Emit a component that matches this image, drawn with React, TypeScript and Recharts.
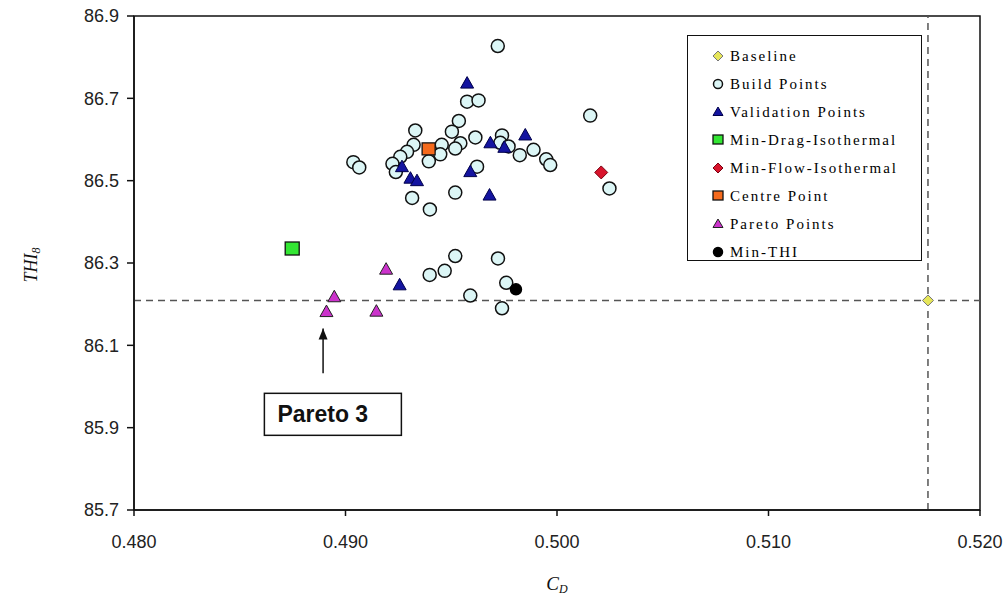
import {
  ScatterChart,
  Scatter,
  XAxis,
  YAxis,
  ReferenceLine,
  ReferenceArea,
  ReferenceDot,
  Legend,
} from "recharts";

// [C_D, THI_8] pairs
type Pt = [number, number];

const baselinePoints: Pt[] = [[0.51754, 86.209]];

const buildPoints: Pt[] = [
  [0.4972, 86.827],
  [0.49575, 86.692],
  [0.49629, 86.695],
  [0.50157, 86.658],
  [0.49536, 86.645],
  [0.4933, 86.622],
  [0.49503, 86.619],
  [0.49614, 86.605],
  [0.4974, 86.61],
  [0.49322, 86.587],
  [0.49455, 86.587],
  [0.49543, 86.591],
  [0.49519, 86.578],
  [0.49732, 86.592],
  [0.49771, 86.583],
  [0.49291, 86.57],
  [0.49259, 86.558],
  [0.49448, 86.564],
  [0.49394, 86.547],
  [0.49824, 86.562],
  [0.49889, 86.575],
  [0.49949, 86.552],
  [0.49968, 86.538],
  [0.49037, 86.545],
  [0.49065, 86.532],
  [0.49222, 86.541],
  [0.49238, 86.521],
  [0.49622, 86.534],
  [0.49519, 86.471],
  [0.49315, 86.458],
  [0.49399, 86.43],
  [0.50248, 86.481],
  [0.49398, 86.271],
  [0.49469, 86.281],
  [0.49519, 86.317],
  [0.49721, 86.311],
  [0.4976, 86.252],
  [0.4959, 86.221],
  [0.4974, 86.19],
];

const validationPoints: Pt[] = [
  [0.49575, 86.737],
  [0.4985, 86.611],
  [0.49685, 86.592],
  [0.49751, 86.581],
  [0.49267, 86.534],
  [0.49307, 86.506],
  [0.49338, 86.5],
  [0.4959, 86.522],
  [0.49681, 86.465],
  [0.49256, 86.247],
];

const minDragPoints: Pt[] = [[0.48748, 86.334]];
const minFlowPoints: Pt[] = [[0.50209, 86.52]];
const centrePoints: Pt[] = [[0.49393, 86.576]];

const paretoPoints: Pt[] = [
  [0.49192, 86.285],
  [0.48947, 86.218],
  [0.4891, 86.182],
  [0.49146, 86.183],
];

const minThiPoints: Pt[] = [[0.49806, 86.236]];

const xTicks = [0.48, 0.49, 0.5, 0.51, 0.52];
const yTicks = [85.7, 85.9, 86.1, 86.3, 86.5, 86.7, 86.9];

// arrow pointing at Pareto 3: x, tail y, tip y
const pareto3Arrow = { x: 0.48894, tail: 86.032, tip: 86.141 };

type Kind = "diamond" | "circle" | "triangle" | "square";

type Series = {
  name: string;
  points: Pt[];
  kind: Kind;
  size: number;
  fill: string;
  stroke: string;
};

const series: Series[] = [
  { name: "Baseline", points: baselinePoints, kind: "diamond", size: 11, fill: "#e6e65a", stroke: "#777" },
  { name: "Build Points", points: buildPoints, kind: "circle", size: 13, fill: "#dcf6f6", stroke: "#111" },
  { name: "Validation Points", points: validationPoints, kind: "triangle", size: 13, fill: "#1414a0", stroke: "#00004a" },
  { name: "Min-Drag-Isothermal", points: minDragPoints, kind: "square", size: 14, fill: "#33e633", stroke: "#111" },
  { name: "Min-Flow-Isothermal", points: minFlowPoints, kind: "diamond", size: 13, fill: "#d8142c", stroke: "#7a0010" },
  { name: "Centre Point", points: centrePoints, kind: "square", size: 13, fill: "#f56a1c", stroke: "#111" },
  { name: "Pareto Points", points: paretoPoints, kind: "triangle", size: 13, fill: "#cc33cc", stroke: "#222" },
  { name: "Min-THI", points: minThiPoints, kind: "circle", size: 11, fill: "#000", stroke: "#000" },
];

const serif = "'Liberation Serif', 'Times New Roman', serif";

function Marker({ kind, cx, cy, s, fill, stroke }: { kind: Kind; cx: number; cy: number; s: number; fill: string; stroke: string }) {
  const h = s / 2;
  if (kind === "circle") {
    return <circle cx={cx} cy={cy} r={h} fill={fill} stroke={stroke} strokeWidth={1.5} />;
  }
  if (kind === "square") {
    return <rect x={cx - h} y={cy - h} width={s} height={s - 1} fill={fill} stroke={stroke} strokeWidth={1.3} />;
  }
  if (kind === "diamond") {
    return (
      <polygon
        points={`${cx},${cy - h} ${cx + h},${cy} ${cx},${cy + h} ${cx - h},${cy}`}
        fill={fill}
        stroke={stroke}
        strokeWidth={1}
      />
    );
  }
  return (
    <polygon
      points={`${cx},${cy - h} ${cx + h},${cy + h - 1.5} ${cx - h},${cy + h - 1.5}`}
      fill={fill}
      stroke={stroke}
      strokeWidth={1}
    />
  );
}

const toXY = (pts: Pt[]) => pts.map(([x, y]) => ({ x, y }));

function LegendBox() {
  return (
    <div
      style={{
        width: 235,
        height: 226,
        boxSizing: "border-box",
        border: "1.5px solid #111",
        background: "#fff",
        paddingTop: 6,
      }}
    >
      {series.map((s) => (
        <div key={s.name} style={{ display: "flex", alignItems: "center", height: 28 }}>
          <svg width={42} height={14} style={{ flex: "none" }}>
            <Marker kind={s.kind} cx={30} cy={7} s={s.kind === "circle" ? 9 : 10} fill={s.fill} stroke={s.stroke} />
          </svg>
          <span
            style={{
              fontFamily: serif,
              fontSize: 15,
              letterSpacing: 2,
              color: "#000",
              whiteSpace: "nowrap",
            }}
          >
            {s.name}
          </span>
        </div>
      ))}
    </div>
  );
}

const YTitle = (props: any) => {
  const vb = props.viewBox || { x: 0, y: 16, width: 134, height: 494 };
  const x = vb.x + 31;
  const y = vb.y + vb.height / 2 + 2;
  return (
    <text
      x={x}
      y={y}
      transform={`rotate(-90, ${x}, ${y})`}
      textAnchor="middle"
      dominantBaseline="central"
      fontFamily={serif}
      fontStyle="italic"
      fontSize={18}
      fill="#111"
    >
      THI
      <tspan fontSize={12} dy={5}>8</tspan>
    </text>
  );
};

const XTitle = (props: any) => {
  const vb = props.viewBox || { x: 134, y: 510, width: 846, height: 88 };
  const x = vb.x + vb.width / 2;
  return (
    <text
      x={x}
      y={vb.y + 80}
      textAnchor="middle"
      fontFamily={serif}
      fontStyle="italic"
      fontSize={19}
      fill="#111"
    >
      C
      <tspan fontSize={12} dy={3}>D</tspan>
    </text>
  );
};

const ArrowHead = (props: any) => {
  const { cx, cy } = props;
  return <polygon points={`${cx},${cy} ${cx - 4.5},${cy + 11} ${cx + 4.5},${cy + 11}`} fill="#111" />;
};

const Pareto3Box = (props: any) => {
  const { cx, cy } = props;
  return (
    <g>
      <rect x={cx - 58.7} y={cy + 20} width={137} height={42} fill="#fff" stroke="#111" strokeWidth={1.5} />
      <text
        x={cx - 45.7}
        y={cy + 49}
        fontFamily="'Liberation Sans', Arial, sans-serif"
        fontWeight="bold"
        fontSize={23}
        fill="#111"
      >
        Pareto 3
      </text>
    </g>
  );
};

const tickStyle = { fill: "#222", fontSize: 18, fontFamily: "'Liberation Sans', Arial, sans-serif" };

export default function App() {
  return (
    <div style={{ position: "absolute", left: 0, top: 0, width: 1007, height: 598, background: "#fff" }}>
      <ScatterChart width={1007} height={598} margin={{ top: 16, right: 27, bottom: 0, left: 0 }}>
        <XAxis
          type="number"
          dataKey="x"
          domain={[0.48, 0.52]}
          ticks={xTicks}
          allowDataOverflow
          tickFormatter={(v: number) => v.toFixed(3)}
          tick={tickStyle}
          tickSize={6}
          tickMargin={19}
          height={88}
          axisLine={{ stroke: "#111", strokeWidth: 1.5 }}
          tickLine={{ stroke: "#111", strokeWidth: 1.5 }}
          label={<XTitle />}
        />
        <YAxis
          type="number"
          dataKey="y"
          domain={[85.7, 86.9]}
          ticks={yTicks}
          allowDataOverflow
          tickFormatter={(v: number) => v.toFixed(1)}
          tick={tickStyle}
          tickSize={7}
          tickMargin={8}
          width={134}
          axisLine={{ stroke: "#111", strokeWidth: 1.5 }}
          tickLine={{ stroke: "#111", strokeWidth: 1.5 }}
          label={<YTitle />}
        />
        <ReferenceArea x1={0.48} x2={0.52} y1={85.7} y2={86.9} fill="none" stroke="#111" strokeWidth={1.5} />
        <ReferenceLine y={baselinePoints[0][1]} stroke="#555" strokeWidth={1.5} strokeDasharray="7 5" />
        <ReferenceLine x={baselinePoints[0][0]} stroke="#555" strokeWidth={1.5} strokeDasharray="7 5" />
        {series.map((s) => (
          <Scatter
            key={s.name}
            name={s.name}
            data={toXY(s.points)}
            fill={s.fill}
            isAnimationActive={false}
            shape={(p: any) => <Marker kind={s.kind} cx={p.cx} cy={p.cy} s={s.size} fill={s.fill} stroke={s.stroke} />}
          />
        ))}
        <ReferenceLine
          segment={[
            { x: pareto3Arrow.x, y: pareto3Arrow.tail },
            { x: pareto3Arrow.x, y: pareto3Arrow.tip },
          ]}
          stroke="#111"
          strokeWidth={1.5}
        />
        <ReferenceDot x={pareto3Arrow.x} y={pareto3Arrow.tip} r={5} shape={<ArrowHead />} />
        <ReferenceDot x={pareto3Arrow.x} y={pareto3Arrow.tail} r={5} shape={<Pareto3Box />} />
        <Legend
          layout="vertical"
          align="center"
          verticalAlign="middle"
          width={235}
          height={226}
          wrapperStyle={{ left: 687, top: 35, width: 235, height: 226 }}
          content={() => <LegendBox />}
        />
      </ScatterChart>
    </div>
  );
}
